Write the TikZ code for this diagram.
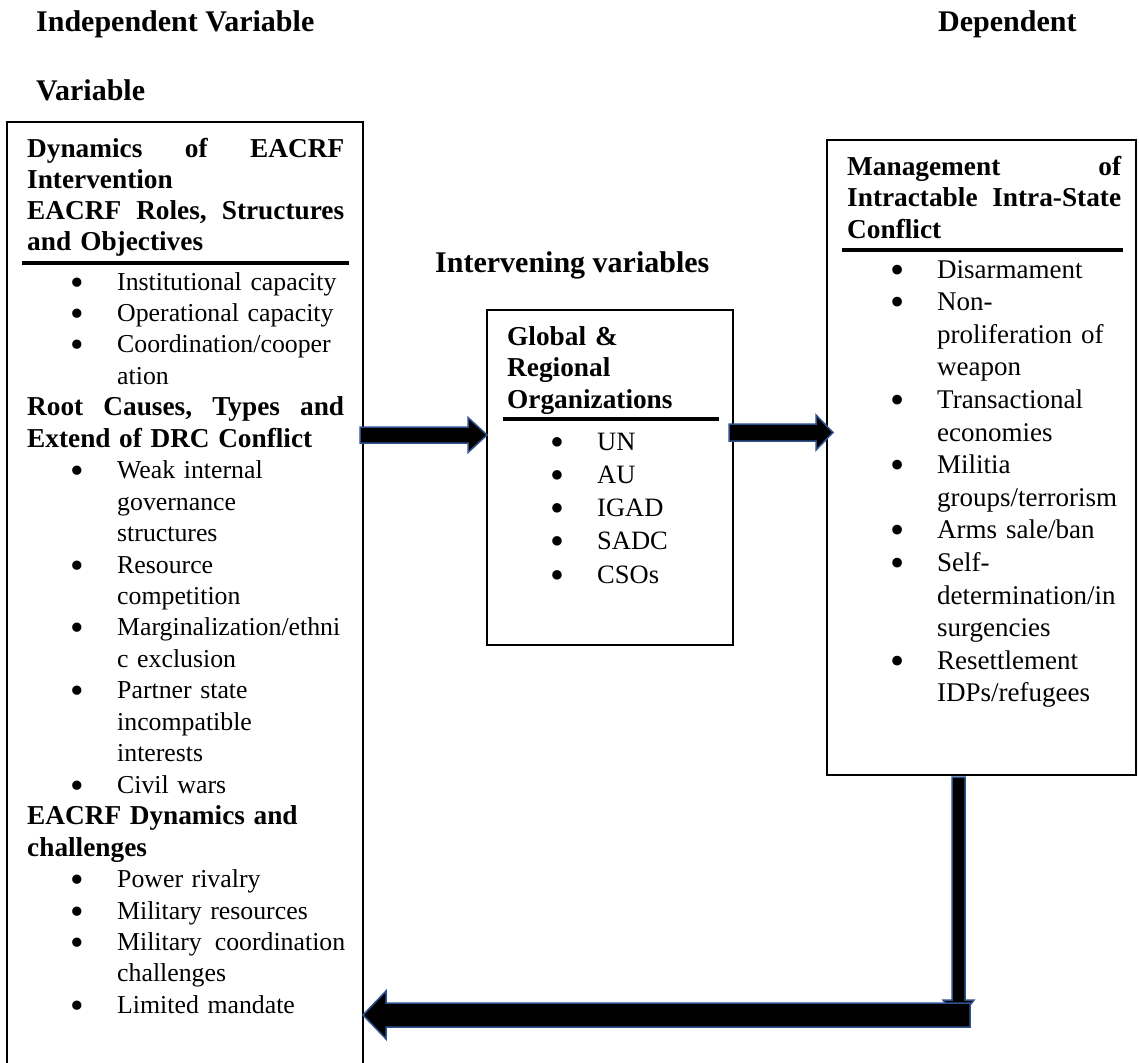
\documentclass[tikz,border=0pt]{standalone}
\usepackage{fontspec}
\setmainfont{Liberation Serif}
\usepackage{graphicx}
\usetikzlibrary{calc}
\definecolor{arrowblue}{RGB}{47,82,143}
\newcommand\bul{\smash{\raisebox{-5pt}{\scalebox{1.5}{\textbullet}}}}
\newcommand\itm[1]{\hspace*{50pt}\makebox[0pt]{\bul}\hspace*{40pt}#1}
\newcommand\cnt[1]{\hspace*{90pt}#1}
\newcommand\hdl[1]{{\fontsize{27.3}{10}\selectfont\bfseries #1}}
\newcommand\arrR[5]{\draw[barrow] let \p1=(#1),\p2=(#2) in (\x1,\y1+#3) -- (\x2-#4,\y1+#3) -- (\x2-#4,\y1+#5) -- (\x2,\y1) -- (\x2-#4,\y1-#5) -- (\x2-#4,\y1-#3) -- (\x1,\y1-#3) -- cycle;}
\newcommand\arrL[5]{\draw[barrow] let \p1=(#1),\p2=(#2) in (\x1,\y1+#3) -- (\x2+#4,\y1+#3) -- (\x2+#4,\y1+#5) -- (\x2,\y1) -- (\x2+#4,\y1-#5) -- (\x2+#4,\y1-#3) -- (\x1,\y1-#3) -- cycle;}
\newcommand\arrD[5]{\draw[barrow] let \p1=(#1),\p2=(#2) in (\x1-#3,\y1) -- (\x1-#3,\y2+#4) -- (\x1-#5,\y2+#4) -- (\x1,\y2) -- (\x1+#5,\y2+#4) -- (\x1+#3,\y2+#4) -- (\x1+#3,\y1) -- cycle;}
\newcommand\hfont{\fontsize{27.3}{31.5}\selectfont\bfseries}
\begin{document}
\lineskiplimit=-50pt
\begin{tikzpicture}[x=1pt,y=-1pt,
  box/.style={draw, line width=1.2pt, inner sep=0pt, outer sep=0pt, anchor=north west},
  hdr/.style={anchor=base west, inner sep=0pt, font=\fontsize{30}{36}\selectfont\bfseries},
  txt/.style={anchor=base west, inner sep=0pt, align=left},
  rulel/.style={line width=4.5pt},
  barrow/.style={fill=black, draw=arrowblue, line width=1.5pt, line join=miter}]
\useasboundingbox (0,0) rectangle (1139,1062);
\clip (0,0) rectangle (1139,1062);

% headers
\node[hdr] (hiv) at (36,32) {Independent Variable};
\node[hdr] (hv) at (36,100) {Variable};
\node[hdr] (hdv) at (938,32) {Dependent};
\node[hdr] (hint) at (435,272) {Intervening variables};

% boxes
\node[box, minimum width=356pt, minimum height=1000pt] (indep) at (7,122) {};
\node[box, minimum width=246pt, minimum height=335pt] (mid) at (487,310) {};
\node[box, minimum width=309pt, minimum height=635pt] (dep) at (827,140) {};

% left box
\node[txt, text width=330pt, font=\fontsize{27.3}{31}\selectfont\bfseries] (lhead) at (27,157)
 {\makebox[317pt]{Dynamics\hfill of\hfill EACRF}\\
  Intervention\\
  \makebox[317pt]{EACRF\hfill Roles,\hfill Structures}\\
  and Objectives};
\draw[rulel] (22,263) -- (349,263);
\node[txt, text width=330pt, font=\fontsize{25.8}{31.45}\selectfont] (llist) at (27,290)
 {\itm{Institutional capacity}\\
  \itm{Operational capacity}\\
  \itm{Coordination/cooper}\\
  \cnt{ation}\\
  \hdl{\makebox[317pt]{Root\hfill Causes,\hfill Types\hfill and}}\\
  \hdl{Extend of DRC Conflict}\\
  \itm{Weak internal}\\
  \cnt{governance}\\
  \cnt{structures}\\
  \itm{Resource}\\
  \cnt{competition}\\
  \itm{Marginalization/ethni}\\
  \cnt{c exclusion}\\
  \itm{Partner state}\\
  \cnt{incompatible}\\
  \cnt{interests}\\
  \itm{Civil wars}\\
  \hdl{EACRF Dynamics and}\\
  \hdl{challenges}\\
  \itm{Power rivalry}\\
  \itm{Military resources}\\
  \itm{\makebox[228pt]{Military\hfill coordination}}\\
  \cnt{challenges}\\
  \itm{Limited mandate}};

% middle box
\node[txt, text width=220pt, font=\hfont] (mhead) at (507,345)
 {Global \&\\
  Regional\\
  Organizations};
\draw[rulel] (503,419) -- (719,419);
\node[txt, text width=220pt, font=\fontsize{26.5}{33.25}\selectfont] (mlist) at (507,450)
 {\itm{UN}\\
  \itm{AU}\\
  \itm{IGAD}\\
  \itm{SADC}\\
  \itm{CSOs}};

% right box
\node[txt, text width=285pt, font=\hfont] (rhead) at (847,175)
 {\makebox[274pt]{Management\hfill of}\\
  \makebox[274pt]{Intractable\hfill Intra-State}\\
  Conflict};
\draw[rulel] (842,250) -- (1123,250);
\node[txt, text width=285pt, font=\fontsize{27}{32.6}\selectfont] (rlist) at (847,278)
 {\itm{Disarmament}\\
  \itm{Non-}\\
  \cnt{proliferation of}\\
  \cnt{weapon}\\
  \itm{Transactional}\\
  \cnt{economies}\\
  \itm{Militia}\\
  \cnt{groups/terrorism}\\
  \itm{Arms sale/ban}\\
  \itm{Self-}\\
  \cnt{determination/in}\\
  \cnt{surgencies}\\
  \itm{Resettlement}\\
  \cnt{IDPs/refugees}};

% connector coordinates
\coordinate (r435) at (0,435);
\coordinate (r432) at (0,432.5);
\coordinate (r1015) at (0,1015);
\coordinate (r1020) at (0,1020);
\coordinate (x958) at (958.5,0);
\coordinate (x970) at (970,0);
\coordinate (a1s) at ($(indep.east |- r435)+(-3,0)$);
\coordinate (a1e) at (mid.west |- r435);
\coordinate (a2s) at ($(mid.east |- r432)+(-4,0)$);
\coordinate (a2e) at ($(dep.west |- r432)+(6,0)$);
\coordinate (d1s) at ($(x958 |- dep.south)+(0,2)$);
\coordinate (d1e) at (x958 |- r1020);
\coordinate (b1s) at (x970 |- r1015);
\coordinate (b1e) at (indep.east |- r1015);

% block arrows
\arrR{a1s}{a1e}{8pt}{19pt}{17.5pt}
\arrR{a2s}{a2e}{8.5pt}{17pt}{17.5pt}
\arrD{d1s}{d1e}{6.5pt}{20pt}{15.5pt}
\arrL{b1s}{b1e}{12pt}{23pt}{24pt}
\end{tikzpicture}
\end{document}
